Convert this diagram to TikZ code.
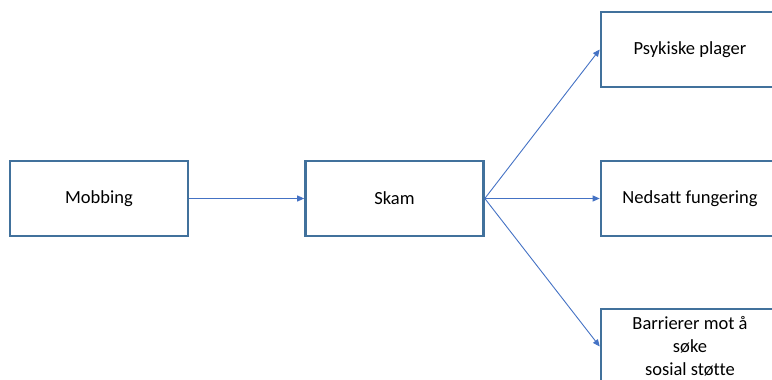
\documentclass[tikz,border=0pt]{standalone}
\usepackage{fontspec}
\setmainfont{Carlito}[Ligatures=NoCommon]
\usetikzlibrary{arrows.meta}
\definecolor{boxline}{HTML}{41719C}
\definecolor{arrowline}{HTML}{4472C4}
\tikzset{
  box/.style={draw=boxline, line width=2.6pt, fill=white, minimum width=178pt, minimum height=75pt, inner sep=2pt, align=center, font=\fontsize{18.5}{23}\selectfont},
  conn/.style={draw=arrowline, line width=0.9pt, -{Triangle[length=7pt,width=6pt]}}
}
\begin{document}
\begin{tikzpicture}[x=1pt,y=-1pt]
\useasboundingbox (0,0) rectangle (772,380);
\clip (0,0) rectangle (772,380);
\node[box] (mob) at (99,198.5) {Mobbing};
\node[box] (skam) at (394.5,198.5) {Skam};
\node[box] (psyk) at (690,49.5) {Psykiske plager};
\node[box] (ned) at (690,198.5) {Nedsatt fungering};
\node[box] (barr) at (690,346.5) {Barrierer mot å\\søke\\sosial støtte};
\draw[conn] (mob.east) -- (skam.west);
\draw[conn] (skam.east) -- (psyk.west);
\draw[conn] (skam.east) -- (ned.west);
\draw[conn] (skam.east) -- (barr.west);
\end{tikzpicture}
\end{document}
